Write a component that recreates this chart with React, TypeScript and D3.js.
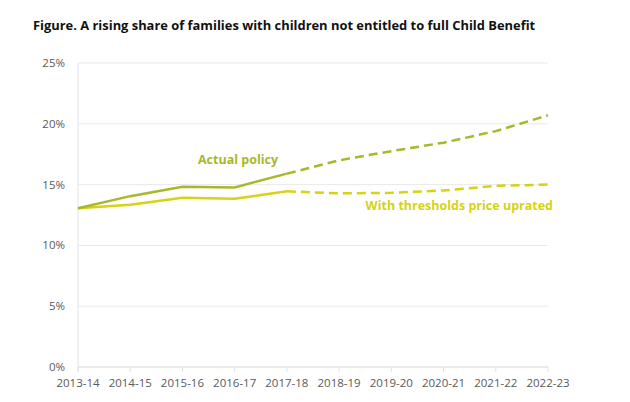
import React from "react";
import * as d3 from "d3";

const years = ["2013-14","2014-15","2015-16","2016-17","2017-18","2018-19","2019-20","2020-21","2021-22","2022-23"];
const actualPolicy = [13.05, 14.05, 14.83, 14.77, 15.9, 17.0, 17.75, 18.45, 19.4, 20.7];
const thresholdsUprated = [13.05, 13.35, 13.92, 13.84, 14.45, 14.28, 14.32, 14.52, 14.9, 15.0];
const yTicks = [0, 5, 10, 15, 20, 25];
const actualSplit = 4; // index where projection (dashed) begins
const labels = { actual: "Actual policy", thresholds: "With thresholds price uprated" };
const title = "Figure. A rising share of families with children not entitled to full Child Benefit";

const W = 630, H = 402;
const C_ACTUAL = "#a8b82a";
const C_THRESH = "#d5d314";
const FONT = "'Open Sans', 'Noto Sans', sans-serif";

export default function App() {
  const x = d3.scalePoint<string>().domain(years).range([78, 548]);
  const y = d3.scaleLinear().domain([0, 25]).range([367, 63]);
  const line = d3.line<number>().x((_, i) => x(years[i]) as number).y(d => y(d));

  const seg = (vals: number[], from: number, to: number) =>
    line.defined((_, i) => i >= from && i <= to)(vals) || "";

  return (
    <svg width={W} height={H} style={{ position: "absolute", left: 0, top: 0, background: "#fff" }} fontFamily={FONT}>
      <text x={33} y={30} fontSize={12.9} fontWeight={700} fill="#111">{title}</text>
      {yTicks.map(t => (
        <g key={t}>
          <line x1={78} x2={548} y1={y(t)} y2={y(t)} stroke="#e9e9e9" strokeWidth={1} />
          <text x={65} y={y(t) + 4} textAnchor="end" fontSize={11.5} fill="#595959">{t}%</text>
        </g>
      ))}
      <line x1={78} x2={78} y1={y(25)} y2={y(0) + 5} stroke="#e2e2e2" strokeWidth={1} />
      <line x1={78} x2={548} y1={y(0)} y2={y(0)} stroke="#e2e2e2" strokeWidth={1} />
      {years.map(yr => (
        <g key={yr}>
          <line x1={x(yr)} x2={x(yr)} y1={y(0)} y2={y(0) + 5} stroke="#e2e2e2" strokeWidth={1} />
          <text x={x(yr)} y={y(0) + 20} textAnchor="middle" fontSize={11.5} fill="#595959">{yr}</text>
        </g>
      ))}
      <path d={seg(thresholdsUprated, 0, actualSplit)} fill="none" stroke={C_THRESH} strokeWidth={2.5} />
      <path d={seg(thresholdsUprated, actualSplit, years.length - 1)} fill="none" stroke={C_THRESH} strokeWidth={2.5} strokeDasharray="9,5" />
      <path d={seg(actualPolicy, 0, actualSplit)} fill="none" stroke={C_ACTUAL} strokeWidth={2.5} />
      <path d={seg(actualPolicy, actualSplit, years.length - 1)} fill="none" stroke={C_ACTUAL} strokeWidth={2.5} strokeDasharray="9,5" />
      <text x={238} y={164} textAnchor="middle" fontSize={12.5} fontWeight={700} fill={C_ACTUAL}>{labels.actual}</text>
      <text x={553} y={210} textAnchor="end" fontSize={12.5} fontWeight={700} fill={C_THRESH}>{labels.thresholds}</text>
    </svg>
  );
}
